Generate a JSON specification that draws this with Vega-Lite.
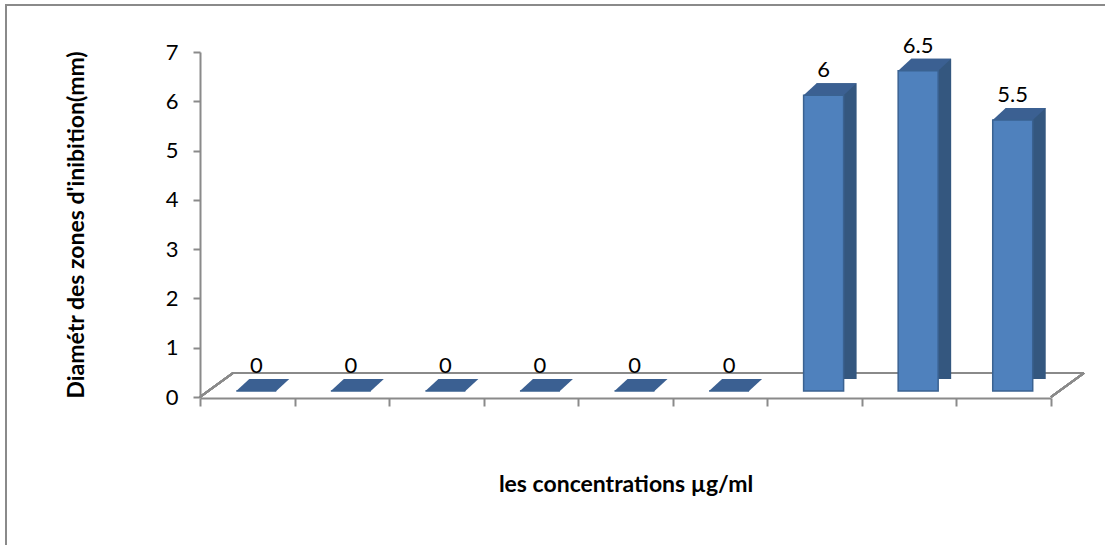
{
  "$schema": "https://vega.github.io/schema/vega-lite/v6.json",
  "width": 1110,
  "height": 550,
  "autosize": {"type": "none"},
  "padding": {"left": 6, "top": 5, "right": 0, "bottom": 0},
  "background": "white",
  "config": {
    "view": {"stroke": "#8a8a8a", "strokeWidth": 2},
    "font": "Lato",
    "axis": {
      "grid": false,
      "domainColor": "#8a8a8a",
      "domainWidth": 2,
      "tickColor": "#8a8a8a",
      "tickWidth": 2,
      "labelFontSize": 22,
      "labelColor": "#000000",
      "labelFont": "Lato",
      "titleFont": "Lato",
      "titleFontSize": 23,
      "titleFontWeight": "bold",
      "titleColor": "#000000"
    }
  },
  "data": {
    "values": [
      {"c": "1", "v": 0},
      {"c": "2", "v": 0},
      {"c": "3", "v": 0},
      {"c": "4", "v": 0},
      {"c": "5", "v": 0},
      {"c": "6", "v": 0},
      {"c": "7", "v": 6},
      {"c": "8", "v": 6.5},
      {"c": "9", "v": 5.5}
    ]
  },
  "encoding": {
    "x": {
      "field": "c",
      "type": "nominal",
      "sort": null,
      "scale": {"domain": ["1", "2", "3", "4", "5", "6", "7", "8", "9"], "range": [194, 1045], "paddingInner": 0, "paddingOuter": 0},
      "axis": {
        "orient": "bottom",
        "offset": -157,
        "labels": false,
        "tickSize": 8,
        "tickBand": "extent",
        "title": "les concentrations µg/ml",
        "titlePadding": 66
      }
    },
    "y": {
      "field": "v",
      "type": "quantitative",
      "scale": {"domain": [0, 7], "range": [392, 47], "nice": false},
      "axis": {
        "orient": "left",
        "offset": -194,
        "values": [0, 1, 2, 3, 4, 5, 6, 7],
        "tickSize": 7,
        "labelPadding": 15,
        "title": "Diamétr des zones d'inibition(mm)",
        "titlePadding": 77
      }
    }
  },
  "layer": [
    {
      "mark": {"type": "rule", "color": "#8a8a8a", "strokeWidth": 2, "xOffset": 33, "x2Offset": 33, "yOffset": -24},
      "encoding": {
        "x": {"datum": "1", "bandPosition": 0},
        "x2": {"datum": "9", "bandPosition": 1},
        "y": {"datum": 0}
      }
    },
    {
      "mark": {"type": "rule", "color": "#8a8a8a", "strokeWidth": 2, "x2Offset": 33, "y2Offset": -24},
      "encoding": {
        "x": {"datum": "1", "bandPosition": 0},
        "x2": {"datum": "1", "bandPosition": 0},
        "y": {"datum": 0},
        "y2": {"datum": 0}
      }
    },
    {
      "mark": {"type": "rule", "color": "#8a8a8a", "strokeWidth": 2, "x2Offset": 33, "y2Offset": -24},
      "encoding": {
        "x": {"datum": "9", "bandPosition": 1},
        "x2": {"datum": "9", "bandPosition": 1},
        "y": {"datum": 0},
        "y2": {"datum": 0}
      }
    },
    {
      "mark": {"type": "bar", "width": 40, "color": "#34577f", "xOffset": 22, "yOffset": -18, "y2Offset": -18},
      "encoding": {"y2": {"datum": 0}}
    },
    {
      "mark": {
        "type": "point",
        "shape": "M-1,0.226L-0.509,-0.226L1,-0.226L0.509,0.226Z",
        "size": 2809,
        "filled": true,
        "opacity": 1,
        "color": "#3b6092",
        "xOffset": 15.5,
        "yOffset": -12
      }
    },
    {
      "mark": {"type": "bar", "width": 40, "color": "#4f81bd", "stroke": "#3a6291", "strokeWidth": 1.5, "xOffset": 9, "yOffset": -6, "y2Offset": -6},
      "encoding": {"y2": {"datum": 0}}
    },
    {
      "mark": {"type": "text", "fontSize": 22, "font": "Lato", "color": "#000000", "baseline": "alphabetic", "dx": 9, "dy": -24},
      "encoding": {"text": {"field": "v", "type": "quantitative"}}
    }
  ]
}
